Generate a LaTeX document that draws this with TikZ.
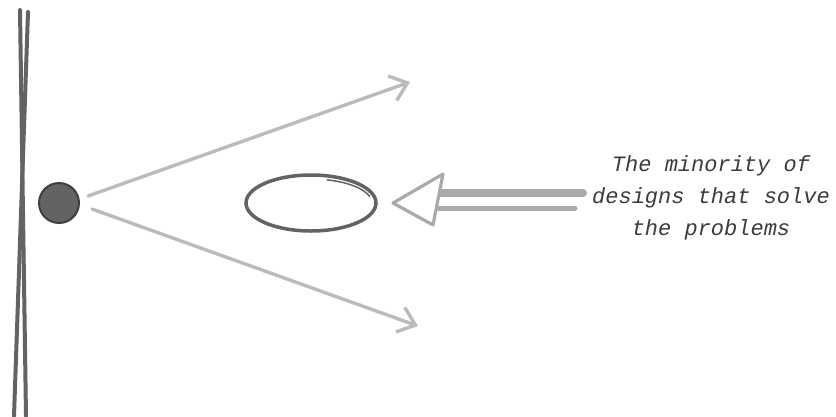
\documentclass[tikz,border=0pt]{standalone}
\usepackage{fontspec}
\newfontfamily\handfont{Liberation Mono}
\usetikzlibrary{arrows.meta,shapes.geometric}
\definecolor{darkg}{HTML}{636363}
\definecolor{edgeg}{HTML}{404040}
\definecolor{lightg}{HTML}{BBBBBB}
\definecolor{arrg}{HTML}{AAAAAA}
\definecolor{textg}{HTML}{3C3C3C}
\tikzset{
  wall/.style={draw=darkg, line width=4pt, line cap=round},
  ray/.style={draw=lightg, line width=3.4pt, line cap=round,
    -{Straight Barb[length=16pt,width=26pt,line width=3.4pt]}},
  hollowhead/.style={draw=arrg, line width=3.2pt, line join=round, fill=white},
  shaft/.style={draw=arrg, line cap=round},
  notetext/.style={font=\handfont\itshape\fontsize{22}{32}\selectfont, text=textg, align=center, inner sep=0pt}
}
\begin{document}
\begin{tikzpicture}[x=1pt,y=-1pt]
\useasboundingbox[fill=white] (0,0) rectangle (836,416);
% wall
\coordinate (w1a) at (20,10);
\coordinate (w1b) at (26,416);
\coordinate (w2a) at (28,12);
\coordinate (w2b) at (14,416);
\draw[wall] (w1a) -- (w1b);
\draw[wall] (w2a) -- (w2b);
% source point
\node (src) [circle, draw=edgeg, line width=2pt, fill=darkg, minimum size=40pt, inner sep=0pt] at (59,203) {};
% rays
\coordinate (up) at (410,82);
\coordinate (dn) at (418,326);
\coordinate (s1) at (88,196);
\coordinate (s2) at (92,209);
\draw[ray] (s1) -- (up);
\draw[ray] (s2) -- (dn);
% target ellipse
\node (goal) [ellipse, draw=darkg, line width=3.5pt, minimum width=130pt, minimum height=56pt, inner sep=0pt] at (311,203) {};
\draw[darkg, line width=1.5pt] (goal.center) ++(15:61pt and 24pt) arc[start angle=15, end angle=75, x radius=61pt, y radius=24pt];
% big hollow arrow
\coordinate (tip) at (393,203);
\coordinate (ht) at (443,174);
\coordinate (hb) at (433,225);
\coordinate (sa) at (583,193);
\coordinate (sb) at (575,208);
\coordinate (ea) at (440,193);
\coordinate (eb) at (438,208);
\draw[shaft, line width=8pt] (ea) -- (sa);
\draw[shaft, line width=5pt] (eb) -- (sb);
\draw[hollowhead] (tip) -- (ht) -- (hb) -- cycle;
% label
\node (lbl) [notetext] at (711,198) {The minority of\\designs that solve\\the problems};
\end{tikzpicture}
\end{document}
